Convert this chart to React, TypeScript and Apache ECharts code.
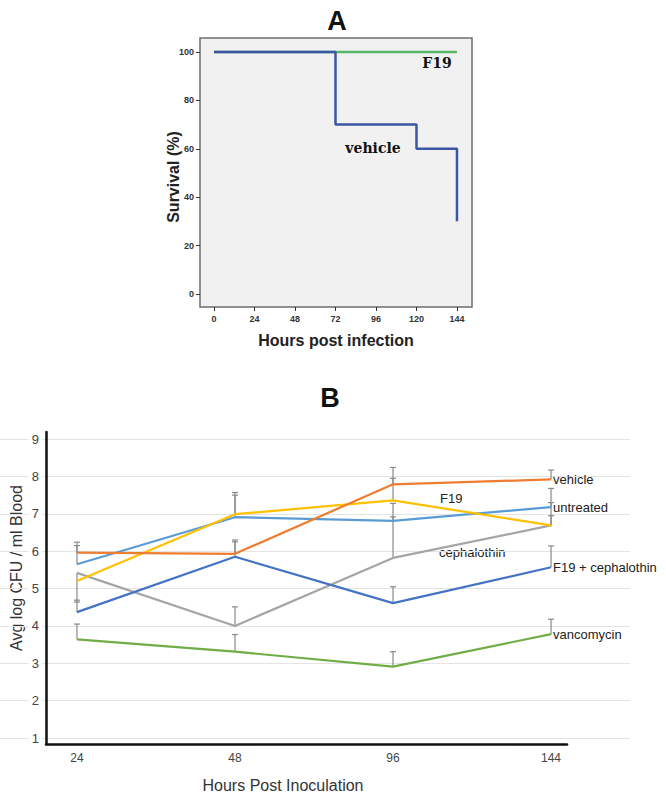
import React, { useEffect, useRef } from "react";
import * as echarts from "echarts";

// ---- Panel A: survival ----
const hourTicks = [0, 24, 48, 72, 96, 120, 144];
const survivalTicks = [0, 20, 40, 60, 80, 100];
const f19Times = [0, 144];
const f19Survival = [100, 100];
const vehicleTimes = [0, 72, 120, 144];
const vehicleSurvival = [100, 70, 60, 30];

// ---- Panel B: CFU ----
const categories = ["24", "48", "96", "144"];
const cfuTicks = [1, 2, 3, 4, 5, 6, 7, 8, 9];
const vehicle = [5.96, 5.93, 7.79, 7.92];
const vehicleTop = [6.24, 6.3, 8.24, 8.17];
const untreated = [5.65, 6.91, 6.81, 7.18];
const untreatedTop = [6.15, 7.5, 7.28, 7.68];
const f19 = [5.2, 6.99, 7.36, 6.69];
const f19Top = [null, 7.57, 7.95, 7.3];
const cephalothin = [5.42, 4.0, 5.82, 6.69];
const cephalothinTop = [4.64, 4.51, 6.92, 6.95];
const f19Ceph = [4.37, 5.85, 4.61, 5.57];
const f19CephTop = [4.69, 6.25, 5.05, 6.14];
const vancomycin = [3.64, 3.31, 2.91, 3.78];
const vancomycinTop = [4.05, 3.77, 3.31, 4.18];

const seriesB = [
  { name: "cephalothin", values: cephalothin, top: cephalothinTop, color: "#A5A5A5", end: false },
  { name: "vancomycin", values: vancomycin, top: vancomycinTop, color: "#70AD47", end: true },
  { name: "F19 + cephalothin", values: f19Ceph, top: f19CephTop, color: "#4472C4", end: true },
  { name: "untreated", values: untreated, top: untreatedTop, color: "#5B9BD5", end: true },
  { name: "F19", values: f19, top: f19Top, color: "#FFC000", end: false },
  { name: "vehicle", values: vehicle, top: vehicleTop, color: "#ED7D31", end: true },
];

const SANS = "'Liberation Sans', Arial, Helvetica, sans-serif";

export default function App() {
  const ref = useRef<HTMLDivElement>(null);
  useEffect(() => {
    if (!ref.current) return;
    const chart = echarts.init(ref.current, null, { renderer: "svg" });

    const errData: any[] = [];
    seriesB.forEach((s) => {
      s.values.forEach((v, i) => {
        const t = s.top[i];
        if (t !== null && t !== undefined) errData.push([i, v, t]);
      });
    });

    const option: any = {
      animation: false,
      textStyle: { fontFamily: SANS },
      grid: [
        { left: 200, top: 38, width: 272, height: 269, show: true, backgroundColor: "#f1f1f1", borderColor: "#6e6e6e", borderWidth: 1.5 },
        { left: 0, top: 439, width: 630, height: 299 },
        { left: 46, top: 432, width: 521, height: 312 },
      ],
      xAxis: [
        {
          gridIndex: 0, type: "value", min: -8.3, max: 152.9,
          axisLine: { show: false, onZero: false },
          splitLine: { show: false },
          axisTick: { show: true, length: 4, customValues: hourTicks, lineStyle: { color: "#333" } },
          axisLabel: { customValues: hourTicks, fontSize: 9, fontWeight: "bold", color: "#333", margin: 7, fontFamily: SANS },
        },
        { gridIndex: 1, type: "value", min: 0, max: 1, show: false },
        {
          gridIndex: 2, type: "value", min: -0.196, max: 3.101,
          axisLine: { show: true, onZero: false, lineStyle: { color: "#111", width: 2.5 } },
          axisTick: { show: false },
          splitLine: { show: false },
          axisLabel: { customValues: [0, 1, 2, 3], formatter: (v: number) => categories[Math.round(v)], fontSize: 12, color: "#444", margin: 8, fontFamily: SANS },
        },
      ],
      yAxis: [
        {
          gridIndex: 0, type: "value", min: -5.4, max: 105.8,
          axisLine: { show: false, onZero: false },
          splitLine: { show: false },
          axisTick: { show: true, length: 4, customValues: survivalTicks, lineStyle: { color: "#333" } },
          axisLabel: { customValues: survivalTicks, fontSize: 9, fontWeight: "bold", color: "#333", margin: 6, fontFamily: SANS },
        },
        {
          gridIndex: 1, type: "value", min: 1, max: 9, interval: 1,
          axisLine: { show: false, onZero: false },
          axisTick: { show: false },
          splitLine: { show: true, lineStyle: { color: "#e4e4e4", width: 1 } },
          axisLabel: {
            inside: true, align: "right", margin: 42, fontSize: 13, color: "#444",
            backgroundColor: "#fff", padding: [0, 3, 0, 3], fontFamily: SANS,
            customValues: cfuTicks,
          },
        },
        {
          gridIndex: 2, type: "value", min: 0.84, max: 9.19,
          axisLine: { show: true, onZero: false, lineStyle: { color: "#111", width: 2.5 } },
          axisTick: { show: false },
          axisLabel: { show: false },
          splitLine: { show: false },
        },
      ],
      series: [
        {
          type: "line", name: "F19 survival", xAxisIndex: 0, yAxisIndex: 0,
          data: f19Times.map((t, i) => [t, f19Survival[i]]),
          symbol: "none", lineStyle: { color: "#58b868", width: 2.5 }, z: 2,
        },
        {
          type: "line", name: "vehicle survival", xAxisIndex: 0, yAxisIndex: 0, step: "end",
          data: vehicleTimes.map((t, i) => [t, vehicleSurvival[i]]),
          symbol: "none", lineStyle: { color: "#3d55a5", width: 2.5 }, z: 3,
        },
        {
          type: "custom", name: "error bars", xAxisIndex: 2, yAxisIndex: 2,
          data: errData, encode: { x: 0, y: [1, 2] }, z: 1,
          renderItem: (params: any, api: any) => {
            const x = api.value(0);
            const a = api.coord([x, api.value(1)]);
            const b = api.coord([x, api.value(2)]);
            return {
              type: "group",
              children: [
                { type: "line", shape: { x1: a[0], y1: a[1], x2: b[0], y2: b[1] }, style: { stroke: "#8a8a8a", lineWidth: 1.2 } },
                { type: "line", shape: { x1: b[0] - 3, y1: b[1], x2: b[0] + 3, y2: b[1] }, style: { stroke: "#8a8a8a", lineWidth: 1.2 } },
              ],
            };
          },
        },
        ...seriesB.map((s) => ({
          type: "line", name: s.name, xAxisIndex: 2, yAxisIndex: 2,
          data: s.values.map((v, i) => [i, v]),
          symbol: "none", z: 3,
          lineStyle: { color: s.color, width: 2.2 },
          endLabel: s.end
            ? { show: true, formatter: s.name, distance: 2, color: "#222", fontSize: 13, fontFamily: SANS }
            : { show: false },
        })),
      ],
      graphic: [
        { type: "text", x: 337, y: 21, style: { text: "A", fontSize: 27, fontWeight: "bold", fontFamily: SANS, fill: "#111", align: "center", verticalAlign: "middle" } },
        { type: "text", x: 173, y: 177, rotation: Math.PI / 2, style: { text: "Survival (%)", fontSize: 16, fontWeight: "bold", fontFamily: SANS, fill: "#222", align: "center", verticalAlign: "middle" } },
        { type: "text", x: 336, y: 340, style: { text: "Hours post infection", fontSize: 16, fontWeight: "bold", fontFamily: SANS, fill: "#222", align: "center", verticalAlign: "middle" } },
        { type: "text", x: 437, y: 63, style: { text: "F19", fontSize: 14, fontWeight: "bold", fontFamily: "'DejaVu Serif', serif", fill: "#111", align: "center", verticalAlign: "middle" } },
        { type: "text", x: 373, y: 148, style: { text: "vehicle", fontSize: 14, fontWeight: "bold", fontFamily: "'DejaVu Serif', serif", fill: "#111", align: "center", verticalAlign: "middle" } },
        { type: "text", x: 330, y: 398, style: { text: "B", fontSize: 27, fontWeight: "bold", fontFamily: SANS, fill: "#111", align: "center", verticalAlign: "middle" } },
        { type: "text", x: 16, y: 568, rotation: Math.PI / 2, style: { text: "Avg log CFU / ml Blood", fontSize: 16, fontFamily: SANS, fill: "#333", align: "center", verticalAlign: "middle" } },
        { type: "text", x: 283, y: 785, style: { text: "Hours Post Inoculation", fontSize: 16, fontFamily: SANS, fill: "#333", align: "center", verticalAlign: "middle" } },
        { type: "text", x: 440, y: 498, style: { text: "F19", fontSize: 13, fontFamily: SANS, fill: "#222", align: "left", verticalAlign: "middle" } },
        { type: "text", x: 439, y: 552, style: { text: "cephalothin", fontSize: 13, fontFamily: SANS, fill: "#222", align: "left", verticalAlign: "middle" } },
      ],
    };
    chart.setOption(option);
    return () => chart.dispose();
  }, []);
  return (
    <div
      ref={ref}
      style={{ position: "absolute", left: 0, top: 0, width: 666, height: 793, background: "#fff" }}
    />
  );
}
